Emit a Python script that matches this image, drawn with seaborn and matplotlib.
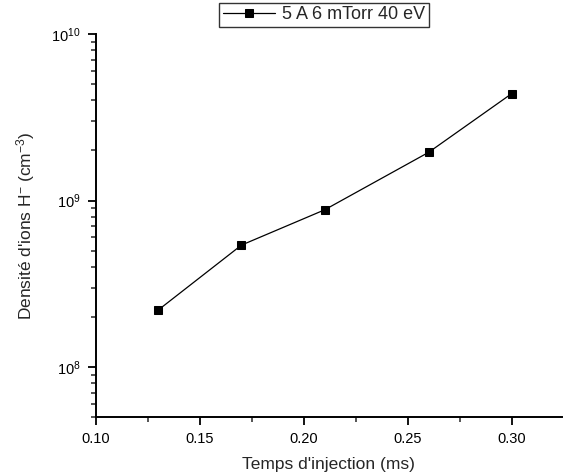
import numpy as np
import pandas as pd
import matplotlib
matplotlib.use("Agg")
import matplotlib.pyplot as plt
import seaborn as sns
from matplotlib.ticker import LogLocator, MultipleLocator, NullFormatter, FormatStrFormatter

# data
temps = [0.13, 0.17, 0.21, 0.26, 0.30]
densite = [2.2e8, 5.4e8, 8.8e8, 1.95e9, 4.4e9]
serie = "5 A 6 mTorr 40 eV"

df = pd.DataFrame({"temps": temps, "densite": densite, "serie": serie})

sns.set_style("ticks")
plt.rcParams["font.family"] = ["Liberation Sans", "DejaVu Sans"]
plt.rcParams["mathtext.fontset"] = "custom"
plt.rcParams["mathtext.rm"] = "Liberation Sans"
plt.rcParams["mathtext.it"] = "Liberation Sans"

fig = plt.figure(figsize=(5.64, 4.75), dpi=100)
ax = fig.add_axes([0.170, 0.122, 0.826, 0.806])

sns.lineplot(data=df, x="temps", y="densite", marker="s", color="black",
             linewidth=0.9, markersize=5.6, markeredgecolor="black",
             label=serie, ax=ax)

ax.set_yscale("log")
ax.set_ylim(5e7, 1e10)
ax.set_xlim(0.10, 0.324)

ax.xaxis.set_major_locator(MultipleLocator(0.05))
ax.xaxis.set_minor_locator(MultipleLocator(0.025))
ax.xaxis.set_major_formatter(FormatStrFormatter("%.2f"))
ax.yaxis.set_major_locator(LogLocator(base=10, numticks=10))
ax.yaxis.set_minor_locator(LogLocator(base=10, subs=np.arange(2, 10), numticks=20))
ax.yaxis.set_minor_formatter(NullFormatter())

ax.tick_params(axis="both", which="major", direction="out", length=6, width=1.3,
               labelsize=10.5, colors="black", pad=5)
ax.tick_params(axis="both", which="minor", direction="out", length=3.5, width=1.1)

for s in ["top", "right"]:
    ax.spines[s].set_visible(False)
for s in ["left", "bottom"]:
    ax.spines[s].set_linewidth(1.4)
    ax.spines[s].set_color("black")

ax.set_xlabel("Temps d'injection (ms)", fontsize=12.5, labelpad=8)
ax.set_ylabel("Densité d'ions H$^{-}$ (cm$^{-3}$)", fontsize=12.5, labelpad=10)

leg = ax.legend(loc="lower center", bbox_to_anchor=(0.49, 1.01), fontsize=13,
                frameon=True, fancybox=False, edgecolor="black", borderpad=0.2,
                handlelength=2.9, handletextpad=0.4, borderaxespad=0.2)
leg.get_frame().set_linewidth(1.0)

fig.savefig("out.png", dpi=100)
